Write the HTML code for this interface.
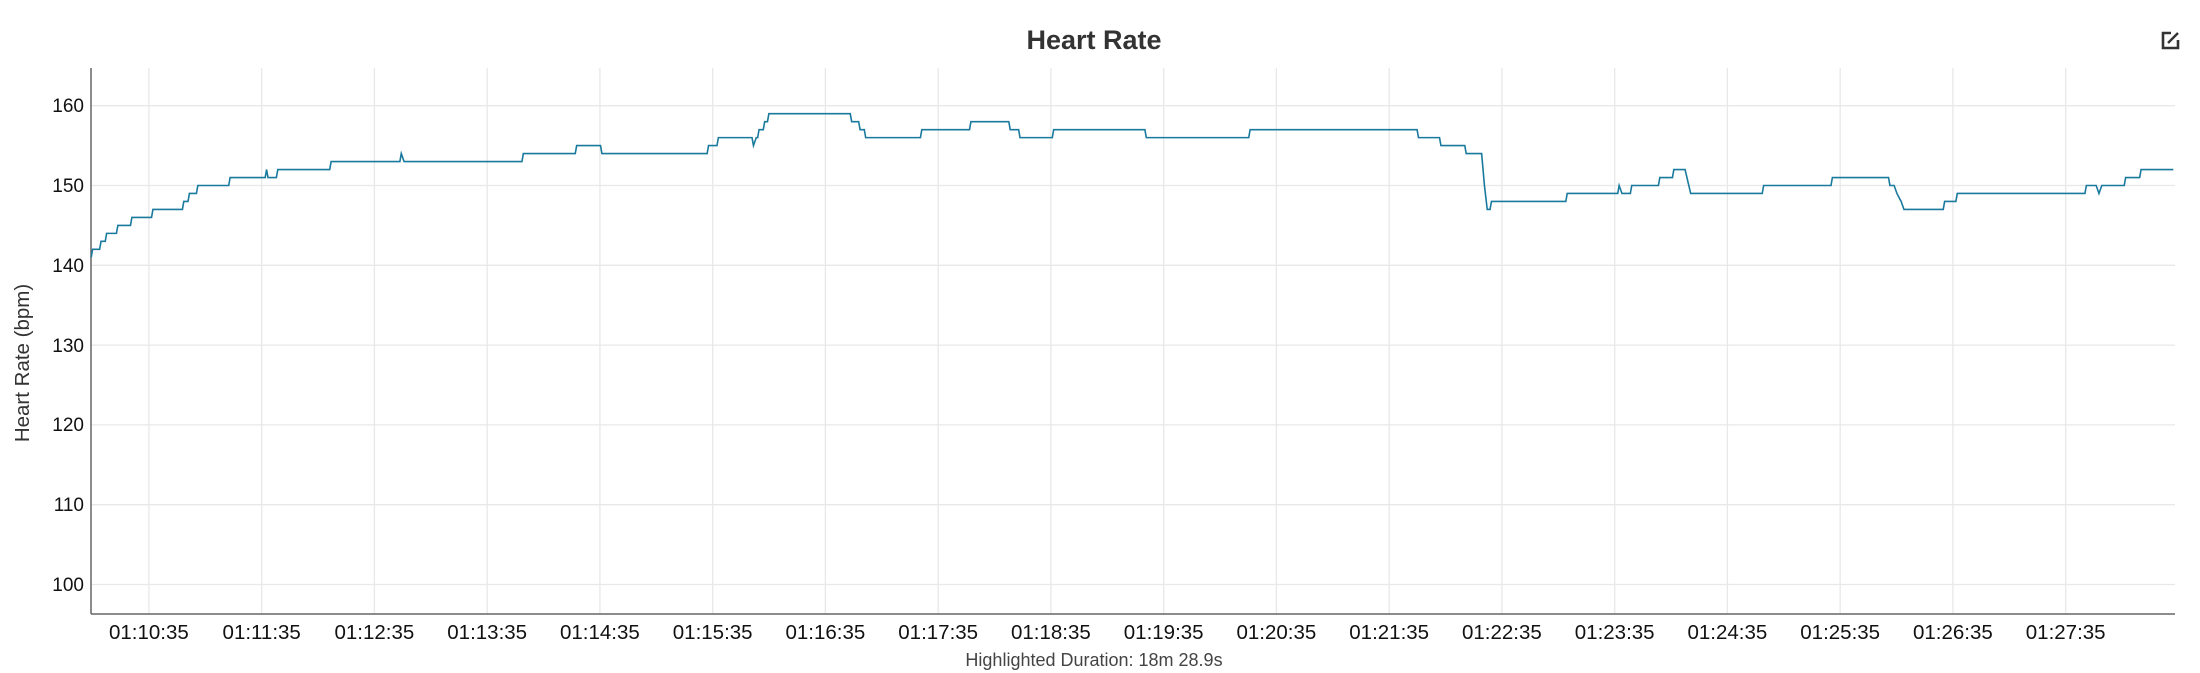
<!DOCTYPE html>
<html><head><meta charset="utf-8"><style>
html,body{margin:0;padding:0;background:#fff;}
svg{display:block;font-family:"Liberation Sans",sans-serif;}
</style></head><body>
<svg width="2200" height="673" viewBox="0 0 2200 673" xmlns="http://www.w3.org/2000/svg">
<text x="1094" y="49" text-anchor="middle" font-size="27" font-weight="bold" fill="#333">Heart Rate</text>
<g transform="translate(2160,31)" fill="none" stroke="#333" stroke-width="2.6">
<path d="M11 2 H3 V17 H18 V9"/><path d="M8 12 L18 2" stroke-width="2.4"/>
</g>
<g stroke="#e8e8e8" stroke-width="1.3">
<line x1="91" x2="2175" y1="105.7" y2="105.7"/>
<line x1="91" x2="2175" y1="185.5" y2="185.5"/>
<line x1="91" x2="2175" y1="265.3" y2="265.3"/>
<line x1="91" x2="2175" y1="345.1" y2="345.1"/>
<line x1="91" x2="2175" y1="424.9" y2="424.9"/>
<line x1="91" x2="2175" y1="504.7" y2="504.7"/>
<line x1="91" x2="2175" y1="584.5" y2="584.5"/>
<line x1="148.9" x2="148.9" y1="68" y2="614"/>
<line x1="261.7" x2="261.7" y1="68" y2="614"/>
<line x1="374.4" x2="374.4" y1="68" y2="614"/>
<line x1="487.2" x2="487.2" y1="68" y2="614"/>
<line x1="599.9" x2="599.9" y1="68" y2="614"/>
<line x1="712.7" x2="712.7" y1="68" y2="614"/>
<line x1="825.4" x2="825.4" y1="68" y2="614"/>
<line x1="938.2" x2="938.2" y1="68" y2="614"/>
<line x1="1050.9" x2="1050.9" y1="68" y2="614"/>
<line x1="1163.7" x2="1163.7" y1="68" y2="614"/>
<line x1="1276.4" x2="1276.4" y1="68" y2="614"/>
<line x1="1389.2" x2="1389.2" y1="68" y2="614"/>
<line x1="1501.9" x2="1501.9" y1="68" y2="614"/>
<line x1="1614.7" x2="1614.7" y1="68" y2="614"/>
<line x1="1727.4" x2="1727.4" y1="68" y2="614"/>
<line x1="1840.2" x2="1840.2" y1="68" y2="614"/>
<line x1="1952.9" x2="1952.9" y1="68" y2="614"/>
<line x1="2065.7" x2="2065.7" y1="68" y2="614"/>
</g>
<g stroke="#666" stroke-width="1.5">
<line x1="91" x2="91" y1="68" y2="614"/>
<line x1="91" x2="2175" y1="614" y2="614"/>
</g>
<g font-size="19" fill="#111" text-anchor="end">
<text x="84" y="112">160</text><text x="84" y="192">150</text><text x="84" y="272">140</text>
<text x="84" y="352">130</text><text x="84" y="431">120</text><text x="84" y="511">110</text><text x="84" y="591">100</text>
</g>
<g font-size="20.5" fill="#111" text-anchor="middle">
<text x="148.9" y="639">01:10:35</text><text x="261.7" y="639">01:11:35</text><text x="374.4" y="639">01:12:35</text>
<text x="487.2" y="639">01:13:35</text><text x="599.9" y="639">01:14:35</text><text x="712.7" y="639">01:15:35</text>
<text x="825.4" y="639">01:16:35</text><text x="938.2" y="639">01:17:35</text><text x="1050.9" y="639">01:18:35</text>
<text x="1163.7" y="639">01:19:35</text><text x="1276.4" y="639">01:20:35</text><text x="1389.2" y="639">01:21:35</text>
<text x="1501.9" y="639">01:22:35</text><text x="1614.7" y="639">01:23:35</text><text x="1727.4" y="639">01:24:35</text>
<text x="1840.2" y="639">01:25:35</text><text x="1952.9" y="639">01:26:35</text><text x="2065.7" y="639">01:27:35</text>
</g>
<text transform="translate(29,363) rotate(-90)" text-anchor="middle" font-size="20.5" fill="#333">Heart Rate (bpm)</text>
<text x="1094" y="666" text-anchor="middle" font-size="18" fill="#444">Highlighted Duration: 18m 28.9s</text>
<polyline transform="matrix(1.40306 0 0 -7.98 0 1382.5)" vector-effect="non-scaling-stroke" fill="none" stroke="#1a7a9e" stroke-width="1.6"
points="65,141 66,142 71,142 72,143 75,143 76,144 83,144 84,145 93,145 94,146 108,146 109,147 130,147 131,148 134,148 135,149 140,149 141,150 163,150 164,151 189,151 190,152 191,151 197,151 198,152 235,152 236,153 285,153 286,154 288,153 372,153 373,154 410,154 411,155 428,155 429,154 504,154 505,155 511,155 512,156 536,156 537,155 539,156 540,156 541,157 544,157 545,158 547,158 548,159 606,159 607,158 612,158 613,157 616,157 617,156 656,156 657,157 691,157 692,158 719,158 720,157 726,157 727,156 750,156 751,157 816,157 817,156 890,156 891,157 1010,157 1011,156 1026,156 1027,155 1044,155 1045,154 1056,154 1058,150 1060,147 1062,147 1063,148 1116,148 1117,149 1153,149 1154,150 1156,149 1162,149 1163,150 1182,150 1183,151 1192,151 1193,152 1201,152 1205,149 1256,149 1257,150 1305,150 1306,151 1346,151 1347,150 1350,150 1352,149 1355,148 1357,147 1385,147 1386,148 1394,148 1395,149 1486,149 1487,150 1494,150 1496,149 1498,150 1514,150 1515,151 1525,151 1526,152 1549,152"/>
</svg>
</body></html>
